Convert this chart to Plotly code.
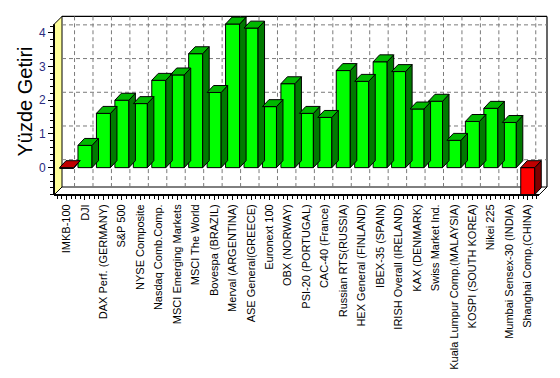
import plotly.graph_objects as go

categories = ["IMKB-100", "DJI", "DAX Perf. (GERMANY)", "S&P 500", "NYSE Composite",
              "Nasdaq Comb.Comp.", "MSCI Emerging Markets", "MSCI The World",
              "Bovespa (BRAZIL)", "Merval (ARGENTINA)", "ASE General(GREECE)",
              "Euronext 100", "OBX (NORWAY)", "PSI-20 (PORTUGAL)", "CAC-40 (France)",
              "Russian RTS(RUSSIA)", "HEX General (FINLAND)", "IBEX-35 (SPAIN)",
              "IRISH Overall (IRELAND)", "KAX (DENMARK)", "Swiss Market Ind.",
              "Kuala Lumpur Comp.(MALAYSIA)", "KOSPI (SOUTH KOREA)", "Nikei 225",
              "Mumbai Sensex-30 (INDIA)", "Shanghai Comp.(CHINA)"]
values = [-0.02, 0.66, 1.61, 2.0, 1.90, 2.59, 2.75, 3.38, 2.23, 4.26, 4.14, 1.81, 2.49,
          1.61, 1.49, 2.88, 2.56, 3.14, 2.85, 1.74, 1.97, 0.81, 1.37, 1.76, 1.34, -0.80]
y_ticks = [0, 1, 2, 3, 4]
y_title = "Yüzde Getiri"

OFF = 8                      # page body margin
W, H = 560 - 2 * OFF, 378 - 2 * OFF
FL, FR, FT, FB = 54, 539, 24.5, 196.5   # front plane (page pixels)
D = 8                                    # depth offset (pixels)
BL, BR, BT, BB = FL + D, FR + D, FT - D, FB - D
XR = [-0.68, 25.61]       # x span of the front plane
YR = [-0.81, 4.25]        # y span of the front plane

def fx(p):
    return (p - OFF) / W

def fy(p):
    return 1 - (p - OFF) / H

ux = (FR - FL) / (XR[1] - XR[0])
uy = (FB - FT) / (YR[1] - YR[0])
DOM_R, DOM_T = OFF + W, OFF
x_range = [XR[0], XR[0] + (DOM_R - FL) / ux]
y_range = [YR[0], YR[0] + (FB - DOM_T) / uy]

BW = 0.76
ddx = 6.5 / ux
ddy = 7.0 / uy
wdx = D / ux
wdy = D / uy

fig = go.Figure()

# back-wall grid, dashed by hand (4 px on, 3 px off), drawn first
DASH, GAP = 4.0, 3.0
gx, gy = [], []
for i in range(len(categories)):
    xg = i + wdx
    y_hi, y_lo = YR[1] + wdy, YR[0] + wdy
    y = y_hi
    while y > y_lo:
        y2 = max(y - DASH / uy, y_lo)
        gx += [xg, xg, None]
        gy += [y, y2, None]
        y -= (DASH + GAP) / uy
for t in y_ticks:
    yg = t + wdy
    x_lo, x_hi = XR[0] + wdx, XR[1] + wdx
    x = x_lo
    while x < x_hi:
        x2 = min(x + DASH / ux, x_hi)
        gx += [x, x2, None]
        gy += [yg, yg, None]
        x += (DASH + GAP) / ux
fig.add_trace(go.Scatter(x=gx, y=gy, mode="lines",
                         line=dict(color="#7a7a7a", width=1),
                         hoverinfo="skip", showlegend=False))

def faces(neg):
    fxs, fys, tx, ty, sx, sy = [], [], [], [], [], []
    for i, v in enumerate(values):
        if (v < 0) != neg:
            continue
        x0, x1 = i - BW / 2, i + BW / 2
        top = max(v, 0)
        bot = min(v, 0)
        fxs += [x0, x1, x1, x0, x0, None]
        fys += [bot, bot, top, top, bot, None]
        tx += [x0, x1, x1 + ddx, x0 + ddx, x0, None]
        ty += [top, top, top + ddy, top + ddy, top, None]
        sx += [x1, x1 + ddx, x1 + ddx, x1, x1, None]
        sy += [bot, bot + ddy, top + ddy, top, bot, None]
    return (fxs, fys), (sx, sy), (tx, ty)

for neg, cfront, cside, ctop in [(False, "#00FF00", "#007A00", "#00B800"),
                                  (True, "#FF0000", "#800000", "#C00000")]:
    for (px, py), col in zip(faces(neg), [cfront, cside, ctop]):
        fig.add_trace(go.Scatter(x=px, y=py, mode="lines", fill="toself", fillcolor=col,
                                 line=dict(color="black", width=1),
                                 hoverinfo="skip", showlegend=False))

shapes = []
def path(pts):
    return "M " + " L ".join(f"{fx(a)},{fy(b)}" for a, b in pts) + " Z"

shapes.append(dict(type="path", xref="paper", yref="paper", layer="below",
                   path=path([(FL, FB), (FR, FB), (BR, BB), (BL, BB)]),
                   fillcolor="white", line=dict(color="black", width=1)))
shapes.append(dict(type="path", xref="paper", yref="paper", layer="below",
                   path=path([(FL, FT), (BL, BT), (BL, BB), (FL, FB)]),
                   fillcolor="#FFFF99", line=dict(color="black", width=1)))
shapes.append(dict(type="line", xref="paper", yref="paper", layer="below",
                   x0=fx(BL), x1=fx(BR), y0=fy(BT), y1=fy(BT),
                   line=dict(color="black", width=1.2)))
shapes.append(dict(type="line", xref="paper", yref="paper", layer="below",
                   x0=fx(BR), x1=fx(BR), y0=fy(BT), y1=fy(BB),
                   line=dict(color="black", width=1.2)))
shapes.append(dict(type="line", xref="paper", yref="paper", layer="above",
                   x0=fx(FL), x1=fx(FL), y0=fy(FB), y1=fy(FT),
                   line=dict(color="black", width=2)))
shapes.append(dict(type="line", xref="paper", yref="paper", layer="below",
                   x0=fx(FL), x1=fx(FR), y0=fy(FB), y1=fy(FB),
                   line=dict(color="black", width=2)))

x_minor = [k * 0.25 for k in range(-2, 103)]
y_minor = [k * 0.2 for k in range(-4, 22)]

fig.update_layout(
    width=W, height=H,
    margin=dict(l=0, r=0, t=0, b=0),
    paper_bgcolor="white", plot_bgcolor="rgba(0,0,0,0)",
    font=dict(family="Liberation Sans, Arial, sans-serif", color="black"),
    showlegend=False,
    shapes=shapes,
    xaxis=dict(domain=[fx(FL), fx(DOM_R)], range=x_range, anchor="y",
               tickmode="array", tickvals=list(range(len(categories))), ticktext=categories,
               tickangle=-90, tickfont=dict(size=11, color="black"),
               showgrid=False, zeroline=False, showline=False,
               ticks="outside", ticklen=4, tickcolor="black",
               minor=dict(tickmode="array", tickvals=x_minor, ticklen=3, ticks="outside",
                          tickcolor="black", showgrid=False)),
    yaxis=dict(domain=[fy(FB), fy(DOM_T)], range=y_range, anchor="x",
               tickmode="array", tickvals=y_ticks, tickfont=dict(size=12, color="#2b2b80"),
               showgrid=False, zeroline=False, showline=False,
               ticks="outside", ticklen=5, tickcolor="black",
               minor=dict(tickmode="array", tickvals=y_minor, ticklen=3, ticks="outside",
                          tickcolor="black", showgrid=False),
               title=dict(text=y_title, font=dict(size=20, color="black"), standoff=0)),
)

fig.write_html("out.html")
